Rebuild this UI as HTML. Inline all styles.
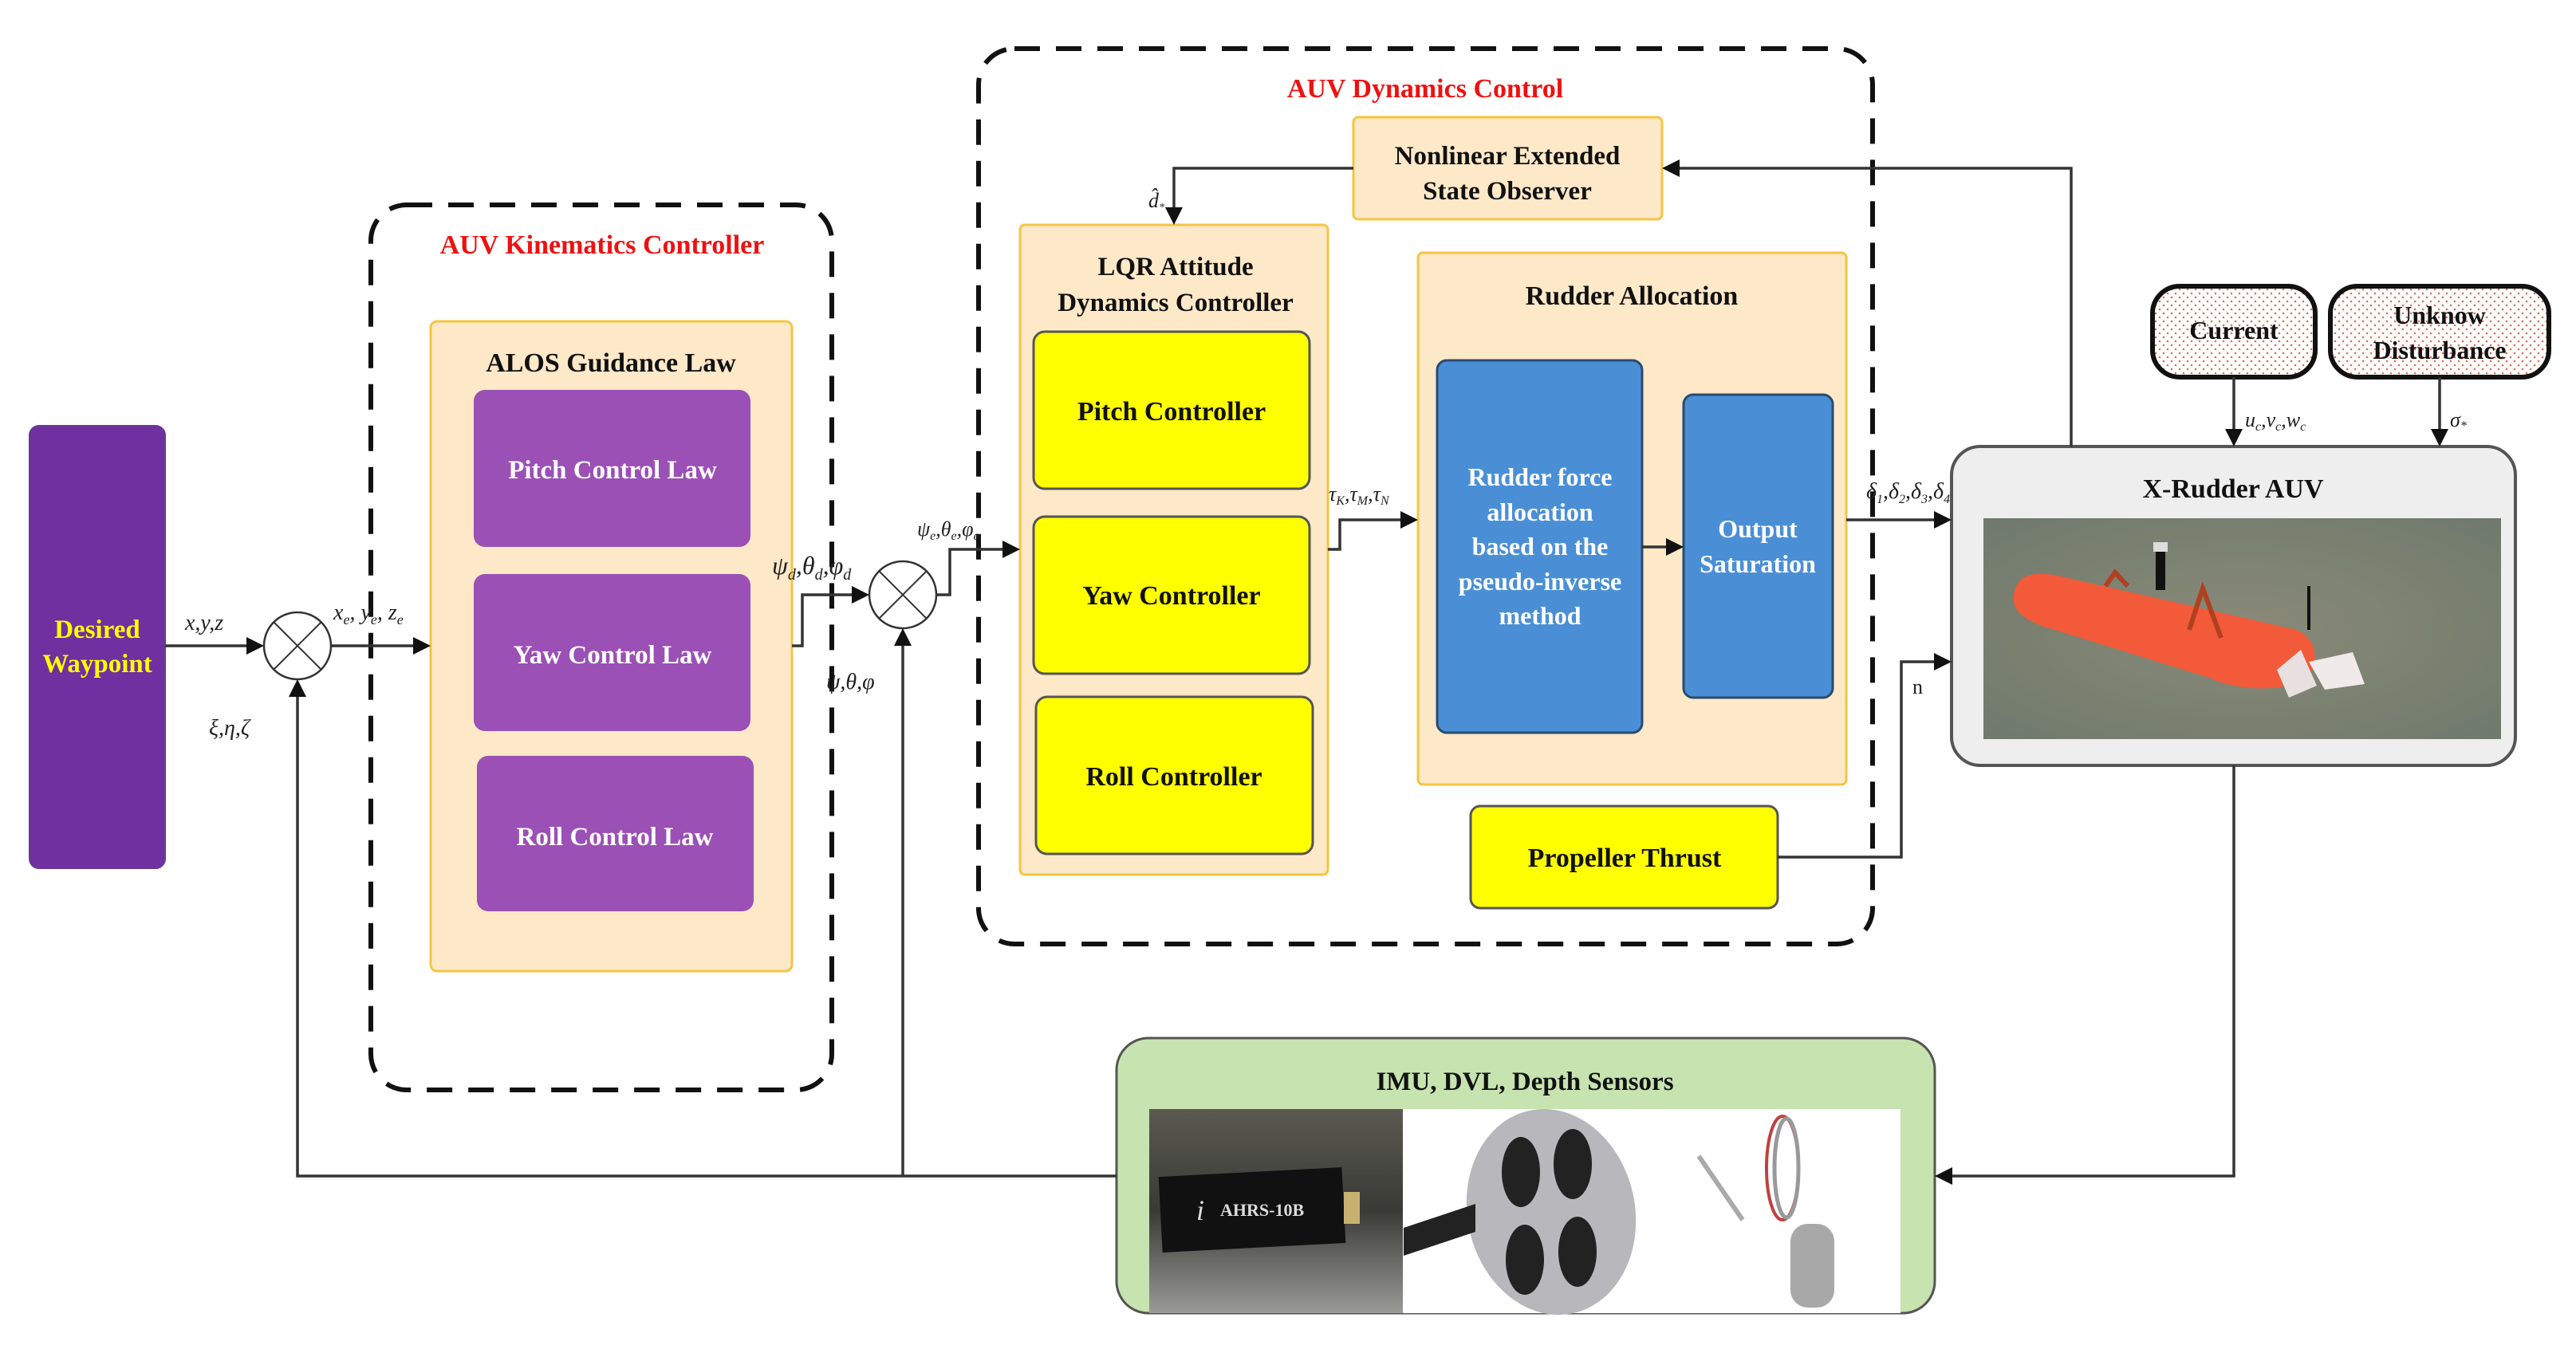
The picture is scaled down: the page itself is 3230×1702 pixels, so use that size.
<!DOCTYPE html>
<html><head><meta charset="utf-8"><style>
html,body{margin:0;padding:0;background:#fff;}
svg{display:block;}
text{font-family:"Liberation Serif",serif;}
.b{font-weight:bold;}
.i{font-style:italic;}
</style></head><body>
<svg width="3230" height="1702" viewBox="0 0 3230 1702" xmlns="http://www.w3.org/2000/svg">
<defs>
<pattern id="dots" width="10" height="10" patternUnits="userSpaceOnUse"><rect width="10" height="10" fill="#fff"/><circle cx="3" cy="3" r="1.3" fill="#e07050"/><circle cx="8" cy="8" r="1.3" fill="#e07050"/></pattern>
<linearGradient id="imu" x1="0" y1="0" x2="0" y2="1"><stop offset="0" stop-color="#5a5a52"/><stop offset="0.5" stop-color="#3a3a36"/><stop offset="1" stop-color="#9a9a98"/></linearGradient>
<radialGradient id="water" cx="0.5" cy="0.5" r="0.7"><stop offset="0" stop-color="#8a8a78"/><stop offset="1" stop-color="#6f7a6c"/></radialGradient>
</defs>

<!-- Desired waypoint -->
<rect x="37" y="534" width="170" height="555" rx="12" fill="#7030a0" stroke="#6a3a90" stroke-width="2"/>
<text x="122" y="800" class="b" font-size="33" fill="#ffff00" text-anchor="middle">Desired</text>
<text x="122" y="843" class="b" font-size="33" fill="#ffff00" text-anchor="middle">Waypoint</text>

<!-- Kinematics dashed box -->
<rect x="465" y="257" width="578" height="1110" rx="45" fill="none" stroke="#111" stroke-width="6" stroke-dasharray="32,20"/>
<text x="755" y="318" class="b" font-size="34" fill="#ee1111" text-anchor="middle">AUV Kinematics Controller</text>
<rect x="540" y="403" width="453" height="815" rx="8" fill="#fde8c8" stroke="#f5c542" stroke-width="3"/>
<text x="766" y="466" class="b" font-size="34" fill="#111" text-anchor="middle">ALOS Guidance Law</text>
<rect x="594" y="489" width="347" height="197" rx="14" fill="#9b50b5"/>
<text x="768" y="600" class="b" font-size="33" fill="#fff" text-anchor="middle">Pitch Control Law</text>
<rect x="594" y="720" width="347" height="197" rx="14" fill="#9b50b5"/>
<text x="768" y="832" class="b" font-size="33" fill="#fff" text-anchor="middle">Yaw Control Law</text>
<rect x="598" y="948" width="347" height="195" rx="14" fill="#9b50b5"/>
<text x="771" y="1060" class="b" font-size="33" fill="#fff" text-anchor="middle">Roll Control Law</text>

<!-- Dynamics dashed box -->
<rect x="1227" y="61" width="1121" height="1123" rx="45" fill="none" stroke="#111" stroke-width="6" stroke-dasharray="32,20"/>
<text x="1787" y="122" class="b" font-size="34" fill="#ee1111" text-anchor="middle">AUV Dynamics Control</text>
<rect x="1697" y="147" width="387" height="128" rx="6" fill="#fde8c8" stroke="#f5c542" stroke-width="3"/>
<text x="1890" y="206" class="b" font-size="33" fill="#111" text-anchor="middle">Nonlinear Extended</text>
<text x="1890" y="250" class="b" font-size="33" fill="#111" text-anchor="middle">State Observer</text>

<rect x="1279" y="282" width="386" height="815" rx="6" fill="#fde8c8" stroke="#f5c542" stroke-width="3"/>
<text x="1474" y="345" class="b" font-size="33" fill="#111" text-anchor="middle">LQR Attitude</text>
<text x="1474" y="390" class="b" font-size="33" fill="#111" text-anchor="middle">Dynamics Controller</text>
<rect x="1296" y="416" width="346" height="197" rx="14" fill="#ffff00" stroke="#555" stroke-width="3"/>
<text x="1469" y="527" class="b" font-size="34" fill="#111" text-anchor="middle">Pitch Controller</text>
<rect x="1296" y="648" width="346" height="197" rx="14" fill="#ffff00" stroke="#555" stroke-width="3"/>
<text x="1469" y="758" class="b" font-size="34" fill="#111" text-anchor="middle">Yaw Controller</text>
<rect x="1299" y="874" width="347" height="197" rx="14" fill="#ffff00" stroke="#555" stroke-width="3"/>
<text x="1472" y="985" class="b" font-size="34" fill="#111" text-anchor="middle">Roll Controller</text>

<rect x="1778" y="317" width="537" height="667" rx="6" fill="#fde8c8" stroke="#f5c542" stroke-width="3"/>
<text x="2046" y="382" class="b" font-size="34" fill="#111" text-anchor="middle">Rudder Allocation</text>
<rect x="1802" y="452" width="257" height="467" rx="12" fill="#4a8fd6" stroke="#2a4a70" stroke-width="3"/>
<g class="b" font-size="32" fill="#fff" text-anchor="middle">
<text x="1931" y="609">Rudder force</text>
<text x="1931" y="653">allocation</text>
<text x="1931" y="696">based on the</text>
<text x="1931" y="740">pseudo-inverse</text>
<text x="1931" y="783">method</text>
</g>
<rect x="2111" y="495" width="187" height="380" rx="12" fill="#4a8fd6" stroke="#2a4a70" stroke-width="3"/>
<text x="2204" y="674" class="b" font-size="32" fill="#fff" text-anchor="middle">Output</text>
<text x="2204" y="718" class="b" font-size="32" fill="#fff" text-anchor="middle">Saturation</text>

<rect x="1844" y="1011" width="385" height="128" rx="12" fill="#ffff00" stroke="#555" stroke-width="3"/>
<text x="2037" y="1087" class="b" font-size="34" fill="#111" text-anchor="middle">Propeller Thrust</text>

<!-- Current / Disturbance -->
<rect x="2699" y="359" width="204" height="114" rx="34" fill="url(#dots)" stroke="#111" stroke-width="6"/>
<text x="2801" y="425" class="b" font-size="32" fill="#111" text-anchor="middle">Current</text>
<rect x="2922" y="359" width="274" height="114" rx="34" fill="url(#dots)" stroke="#111" stroke-width="6"/>
<text x="3059" y="406" class="b" font-size="32" fill="#111" text-anchor="middle">Unknow</text>
<text x="3059" y="450" class="b" font-size="32" fill="#111" text-anchor="middle">Disturbance</text>

<!-- AUV box -->
<rect x="2447" y="560" width="707" height="400" rx="36" fill="#eeeeee" stroke="#555" stroke-width="4"/>
<text x="2800" y="624" class="b" font-size="34" fill="#111" text-anchor="middle">X-Rudder AUV</text>
<rect x="2487" y="650" width="649" height="277" fill="url(#water)"/>
<path d="M2525,745 Q2530,712 2580,722 L2880,790 Q2910,805 2900,840 L2860,862 Q2810,868 2770,850 L2560,785 Q2520,770 2525,745 Z" fill="#f25a3a"/>
<path d="M2855,840 L2885,815 L2905,860 L2870,875 Z" fill="#e8e0e0"/>
<path d="M2895,830 L2950,818 L2965,858 L2915,865 Z" fill="#f0eaea"/>
<rect x="2703" y="690" width="12" height="50" fill="#111"/>
<rect x="2700" y="680" width="18" height="12" fill="#ddd"/>
<path d="M2745,790 L2762,738 L2785,800" fill="none" stroke="#b04020" stroke-width="6"/>
<path d="M2640,735 L2652,718 L2668,735" fill="none" stroke="#b04020" stroke-width="6"/>
<rect x="2893" y="735" width="4" height="55" fill="#111"/>

<!-- Sensors box -->
<rect x="1400" y="1302" width="1026" height="345" rx="40" fill="#c6e3b0" stroke="#555" stroke-width="3"/>
<text x="1912" y="1367" class="b" font-size="33" fill="#111" text-anchor="middle">IMU, DVL, Depth Sensors</text>
<rect x="1441" y="1391" width="318" height="256" fill="url(#imu)"/>
<rect x="1455" y="1470" width="230" height="95" fill="#111" transform="rotate(-3 1570 1517)"/>
<rect x="1685" y="1495" width="20" height="40" fill="#c8b070"/>
<text x="1530" y="1525" font-family="Liberation Sans,sans-serif" font-size="22" fill="#ddd" font-weight="bold">AHRS-10B</text>
<text x="1500" y="1530" class="i" font-size="36" fill="#ddd">i</text>
<rect x="1759" y="1391" width="347" height="256" fill="#fff"/>
<ellipse cx="1945" cy="1520" rx="105" ry="130" fill="#b8b8bc" transform="rotate(-12 1945 1520)"/>
<ellipse cx="1907" cy="1470" rx="24" ry="44" fill="#222"/>
<ellipse cx="1972" cy="1460" rx="24" ry="44" fill="#222"/>
<ellipse cx="1912" cy="1580" rx="24" ry="44" fill="#222"/>
<ellipse cx="1978" cy="1570" rx="24" ry="44" fill="#222"/>
<path d="M1760,1540 L1850,1510 L1850,1545 L1760,1575 Z" fill="#222"/>
<rect x="2106" y="1391" width="277" height="256" fill="#fff"/>
<ellipse cx="2235" cy="1465" rx="20" ry="65" fill="none" stroke="#c04040" stroke-width="4"/>
<ellipse cx="2240" cy="1465" rx="15" ry="62" fill="none" stroke="#999" stroke-width="5"/>
<rect x="2245" y="1535" width="55" height="105" rx="22" fill="#a8a8a8"/>
<path d="M2130,1450 L2185,1530" stroke="#aaa" stroke-width="6"/>

<!-- Sum circles -->
<g fill="#fff" stroke="#333" stroke-width="2.5">
<circle cx="373" cy="810" r="42"/>
<circle cx="1132" cy="746" r="42"/>
</g>
<g stroke="#333" stroke-width="2">
<line x1="343" y1="780" x2="403" y2="840"/><line x1="403" y1="780" x2="343" y2="840"/>
<line x1="1102" y1="716" x2="1162" y2="776"/><line x1="1162" y1="716" x2="1102" y2="776"/>
</g>

<!-- Connectors -->
<g fill="none" stroke="#333" stroke-width="3.5">
<path d="M207,810 L318,810"/>
<path d="M415,810 L522,810"/>
<path d="M993,810 L1006,810 L1006,746 L1072,746"/>
<path d="M1174,746 L1191,746 L1191,689 L1262,689"/>
<path d="M1665,689 L1680,689 L1680,652 L1760,652"/>
<path d="M2059,686 L2095,686"/>
<path d="M2315,652 L2430,652"/>
<path d="M2229,1075 L2384,1075 L2384,830 L2430,830"/>
<path d="M2597,560 L2597,211 L2102,211"/>
<path d="M1697,211 L1472,211 L1472,265"/>
<path d="M2801,473 L2801,542"/>
<path d="M3059,473 L3059,542"/>
<path d="M2801,960 L2801,1475 L2445,1475"/>
<path d="M1400,1475 L373,1475 L373,870"/>
<path d="M1132,1475 L1132,806"/>
</g>
<!-- Arrowheads -->
<g fill="#111">
<path d="M331,810 L309,799 L309,821 Z"/>
<path d="M540,810 L518,799 L518,821 Z"/>
<path d="M1090,746 L1068,735 L1068,757 Z"/>
<path d="M1279,689 L1257,678 L1257,700 Z"/>
<path d="M1778,652 L1756,641 L1756,663 Z"/>
<path d="M2111,686 L2089,675 L2089,697 Z"/>
<path d="M2447,652 L2425,641 L2425,663 Z"/>
<path d="M2447,830 L2425,819 L2425,841 Z"/>
<path d="M2084,211 L2106,200 L2106,222 Z"/>
<path d="M1472,282 L1461,260 L1483,260 Z"/>
<path d="M2801,560 L2790,538 L2812,538 Z"/>
<path d="M3059,560 L3048,538 L3070,538 Z"/>
<path d="M2426,1475 L2448,1464 L2448,1486 Z"/>
<path d="M373,852 L362,874 L384,874 Z"/>
<path d="M1132,788 L1121,810 L1143,810 Z"/>
</g>

<!-- Labels -->
<g class="i" font-size="28" fill="#222">
<text x="232" y="790">x,y,z</text>
<text x="262" y="922">ξ,η,ζ</text>
<text x="418" y="777">x<tspan font-size="18" dy="6">e</tspan><tspan dy="-6">, y</tspan><tspan font-size="18" dy="6">e</tspan><tspan dy="-6">, z</tspan><tspan font-size="18" dy="6">e</tspan></text>
<text x="968" y="720" font-size="32">ψ<tspan font-size="20" dy="7">d</tspan><tspan dy="-7">,θ</tspan><tspan font-size="20" dy="7">d</tspan><tspan dy="-7">,φ</tspan><tspan font-size="20" dy="7">d</tspan></text>
<text x="1036" y="864">ψ,θ,φ</text>
<text x="1150" y="672" font-size="26">ψ<tspan font-size="16" dy="5">e</tspan><tspan dy="-5">,θ</tspan><tspan font-size="16" dy="5">e</tspan><tspan dy="-5">,φ</tspan><tspan font-size="16" dy="5">e</tspan></text>
<text x="1440" y="260" font-size="26">d̂<tspan font-size="14" dy="4">*</tspan></text>
<text x="1666" y="628" font-size="26">τ<tspan font-size="16" dy="5">K</tspan><tspan dy="-5">,τ</tspan><tspan font-size="16" dy="5">M</tspan><tspan dy="-5">,τ</tspan><tspan font-size="16" dy="5">N</tspan></text>
<text x="2340" y="625" font-size="28">δ<tspan font-size="16" dy="6">1</tspan><tspan dy="-6">,δ</tspan><tspan font-size="16" dy="6">2</tspan><tspan dy="-6">,δ</tspan><tspan font-size="16" dy="6">3</tspan><tspan dy="-6">,δ</tspan><tspan font-size="16" dy="6">4</tspan></text>
<text x="2815" y="535" font-size="26">u<tspan font-size="16" dy="5">c</tspan><tspan dy="-5">,v</tspan><tspan font-size="16" dy="5">c</tspan><tspan dy="-5">,w</tspan><tspan font-size="16" dy="5">c</tspan></text>
<text x="3072" y="535" font-size="26">σ<tspan font-size="16" dy="4">*</tspan></text>
</g>
<text x="2398" y="870" font-size="26" fill="#222">n</text>
</svg>
</body></html>
